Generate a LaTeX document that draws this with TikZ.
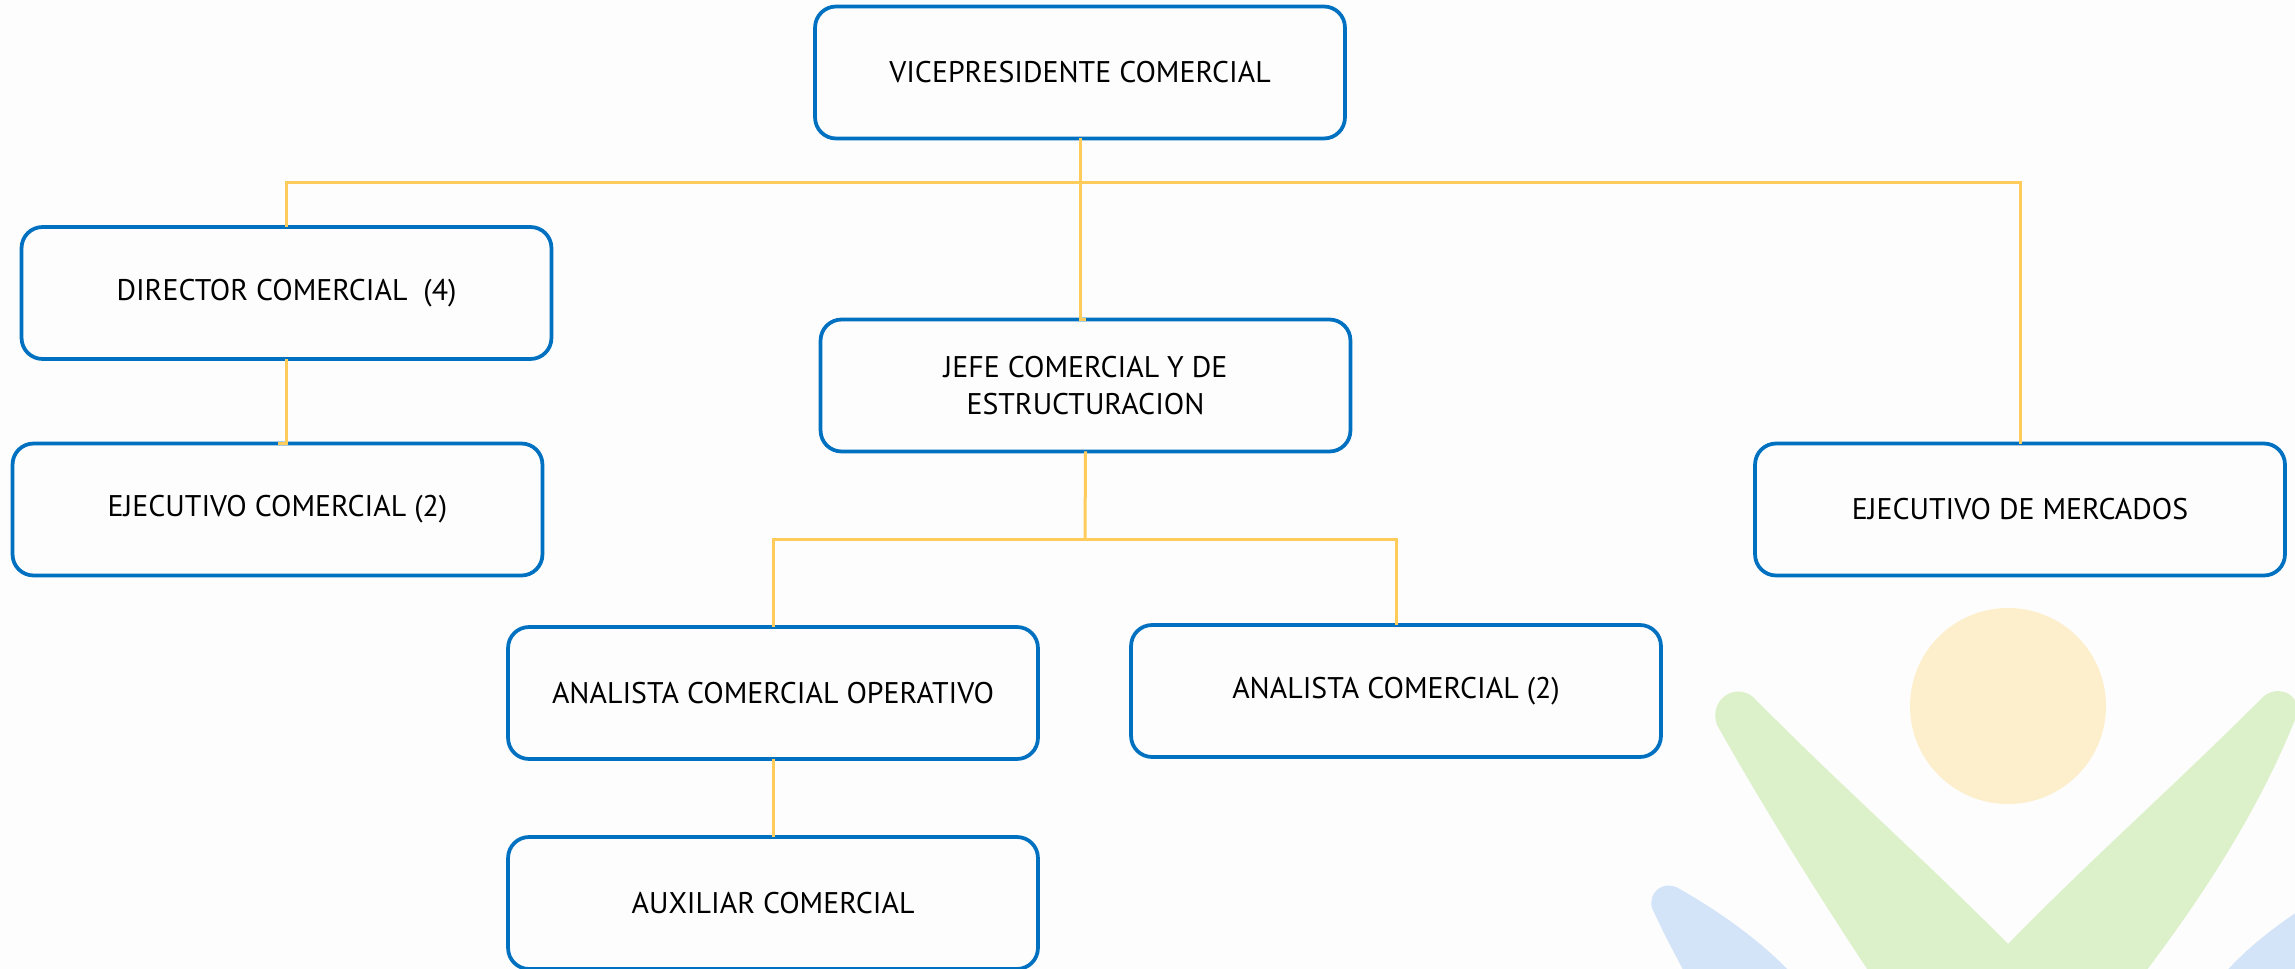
\documentclass[tikz,border=0pt]{standalone}
\usepackage{fontspec}
\setmainfont{PT Sans}
\definecolor{azulcaja}{HTML}{0070C0}
\definecolor{amarillo}{HTML}{FFCC5C}
\definecolor{fondo}{HTML}{FDFDFD}
\definecolor{hojaverde}{HTML}{DCF1CA}
\definecolor{hojaazul}{HTML}{D3E4F8}
\definecolor{solnaranja}{HTML}{FEEFCC}
\begin{document}
\begin{tikzpicture}[x=0.02cm,y=-0.02cm,
   cargo/.style={draw=azulcaja,line width=0.075cm,rounded corners=0.42cm,outer sep=0pt,
      minimum width=10.6cm,minimum height=2.64cm,align=center,font=\fontsize{17}{21.5}\selectfont},
   linea/.style={draw=amarillo,line width=0.06cm}]
\fill[fondo,use as bounding box] (0,0) rectangle (2295,969);
\begin{scope}
\clip (0,0) rectangle (2295,969);
\fill[solnaranja] (2008,706) circle (1.96cm);
\fill[hojaverde] (1753,697) .. controls (1840,785) and (1925,860) .. (2008,944)
   .. controls (2090,860) and (2175,785) .. (2263,697)
   .. controls (2275,686) and (2297,690) .. (2298,712)
   .. controls (2260,810) and (2200,900) .. (2143,975)
   -- (1871,975) .. controls (1815,890) and (1765,810) .. (1717,725)
   .. controls (1708,700) and (1735,682) .. (1753,697) -- cycle;
\fill[hojaazul] (1678,888) .. controls (1720,912) and (1760,940) .. (1793,975)
   -- (1686,975) .. controls (1675,955) and (1662,930) .. (1652,908)
   .. controls (1648,893) and (1662,880) .. (1678,888) -- cycle;
\fill[hojaazul] (2223,975) .. controls (2245,950) and (2270,930) .. (2300,910) -- (2300,975) -- cycle;
\end{scope}
\node[cargo] (vice) at (1080,72.5) {VICEPRESIDENTE COMERCIAL};
\node[cargo] (director) at (286.5,293) {DIRECTOR COMERCIAL~ (4)};
\node[cargo] (ejecutivo) at (277.5,509.5) {EJECUTIVO COMERCIAL (2)};
\node[cargo] (jefe) at (1085.5,385.5) {JEFE COMERCIAL Y DE\\ESTRUCTURACION};
\node[cargo] (mercados) at (2020,509.5) {EJECUTIVO DE MERCADOS};
\node[cargo] (operativo) at (773,693) {ANALISTA COMERCIAL OPERATIVO};
\node[cargo] (analista) at (1396,691) {ANALISTA COMERCIAL (2)};
\node[cargo] (auxiliar) at (773,903) {AUXILIAR COMERCIAL};
\coordinate (busvice) at (1080,183);
\coordinate (busjefe) at (1085,539);
\draw[linea] (vice.south) -- (vice.south |- jefe.north) -- (jefe.north);
\draw[linea] (busvice) -| (director.north);
\draw[linea] (busvice) -| (mercados.north);
\draw[linea] (director.south) -- (director.south |- ejecutivo.north) -- (ejecutivo.north);
\draw[linea] (jefe.south) -- (busjefe);
\draw[linea] (busjefe) -| (operativo.north);
\draw[linea] (busjefe) -| (analista.north);
\draw[linea] (operativo.south) -- (auxiliar.north);
\end{tikzpicture}
\end{document}
